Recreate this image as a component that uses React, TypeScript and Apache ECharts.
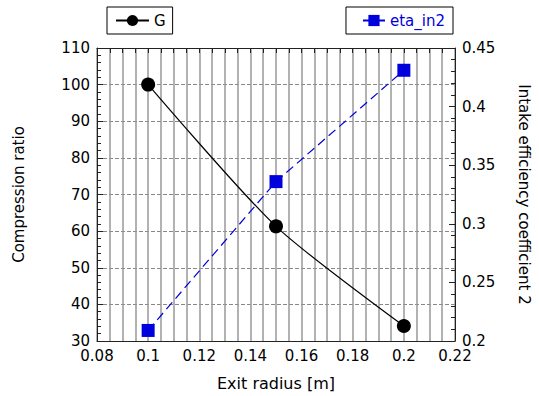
import React, { useEffect, useRef } from "react";
import * as echarts from "echarts";

// Exit radius [m]
const radius = [0.1, 0.15, 0.2];
// Compression ratio G (left axis)
const gValues = [100, 61.3, 34.1];
// Intake efficiency coefficient 2 (right axis)
const etaValues = [0.209, 0.336, 0.431];

const FONT = "DejaVu Sans";

export default function App() {
  const ref = useRef<HTMLDivElement>(null);

  useEffect(() => {
    if (!ref.current) return;
    const chart = echarts.init(ref.current, null, { renderer: "svg" });
    const axisLine = { show: true, lineStyle: { color: "#222", width: 1 } };
    chart.setOption({
      animation: false,
      textStyle: { fontFamily: FONT },
      grid: {
        left: 97,
        right: 84,
        top: 48,
        bottom: 55,
        containLabel: false,
        outerBoundsMode: "none",
      },
      legend: [
        {
          data: ["G"],
          left: 107,
          top: 7,
          borderColor: "#000",
          borderWidth: 1,
          padding: [6, 7, 6, 8],
          itemWidth: 33,
          itemHeight: 14,
          itemGap: 6,
          textStyle: { fontFamily: FONT, fontSize: 15, color: "#000" },
        },
        {
          data: ["eta_in2"],
          right: 86,
          top: 7,
          borderColor: "#000",
          borderWidth: 1,
          padding: [6, 8, 6, 16],
          itemWidth: 22,
          itemHeight: 14,
          textStyle: { fontFamily: FONT, fontSize: 15, color: "#0000dd" },
        },
      ],
      xAxis: [
        {
          type: "value",
          min: 0.08,
          max: 0.22,
          interval: 0.02,
          name: "Exit radius [m]",
          nameLocation: "middle",
          nameGap: 34,
          nameTextStyle: { fontFamily: FONT, fontSize: 16, color: "#000" },
          axisLine,
          axisTick: { show: false },
          axisLabel: { fontFamily: FONT, fontSize: 15, color: "#000", margin: 7 },
          splitLine: { show: true, lineStyle: { color: "#999", width: 1.5, type: "solid" } },
          minorTick: { show: false, splitNumber: 4 },
          minorSplitLine: { show: true, lineStyle: { color: "#999", width: 1.5, type: "solid" } },
        },
        {
          type: "value",
          position: "top",
          min: 0.08,
          max: 0.22,
          interval: 0.02,
          axisLine,
          axisLabel: { show: false },
          axisTick: { show: true, inside: true, length: 5, lineStyle: { color: "#222" } },
          minorTick: { show: true, splitNumber: 4, length: 5, lineStyle: { color: "#222" } },
          splitLine: { show: false },
        },
      ],
      yAxis: [
        {
          type: "value",
          min: 30,
          max: 110,
          interval: 10,
          name: "Compression ratio",
          nameLocation: "middle",
          nameGap: 71,
          nameTextStyle: { fontFamily: FONT, fontSize: 15, color: "#000" },
          axisLine,
          axisTick: { show: true, inside: true, length: 6, lineStyle: { color: "#222" } },
          minorTick: { show: true, splitNumber: 5, length: 4, lineStyle: { color: "#222" } },
          axisLabel: { fontFamily: FONT, fontSize: 15, color: "#000", margin: 7 },
          splitLine: { show: true, lineStyle: { color: "#888", width: 1, type: [4, 2] } },
        },
        {
          type: "value",
          min: 0.2,
          max: 0.45,
          interval: 0.05,
          position: "right",
          name: "Intake efficiency coefficient 2",
          nameLocation: "middle",
          nameGap: 61,
          nameRotate: -90,
          nameTextStyle: { fontFamily: FONT, fontSize: 15, color: "#000" },
          axisLine,
          axisTick: { show: true, inside: true, length: 6, lineStyle: { color: "#222" } },
          minorTick: { show: true, splitNumber: 5, length: 4, lineStyle: { color: "#222" } },
          axisLabel: { fontFamily: FONT, fontSize: 15, color: "#000", margin: 7 },
          splitLine: { show: false },
        },
      ],
      series: [
        {
          name: "G",
          type: "line",
          xAxisIndex: 0,
          yAxisIndex: 0,
          data: radius.map((r, i) => [r, gValues[i]]),
          smooth: 0.25,
          symbol: "circle",
          symbolSize: 14,
          itemStyle: { color: "#000" },
          lineStyle: { color: "#000", width: 1.2 },
          z: 5,
        },
        {
          name: "eta_in2",
          type: "line",
          xAxisIndex: 0,
          yAxisIndex: 1,
          data: radius.map((r, i) => [r, etaValues[i]]),
          symbol: "rect",
          symbolSize: 13,
          itemStyle: { color: "#0000dd" },
          lineStyle: { color: "#0000dd", width: 1.2, type: [9, 5] },
          z: 5,
        },
      ],
    });
    return () => chart.dispose();
  }, []);

  return <div ref={ref} style={{ width: 539, height: 396, position: "absolute", left: 0, top: 0, background: "#fff" }} />;
}
